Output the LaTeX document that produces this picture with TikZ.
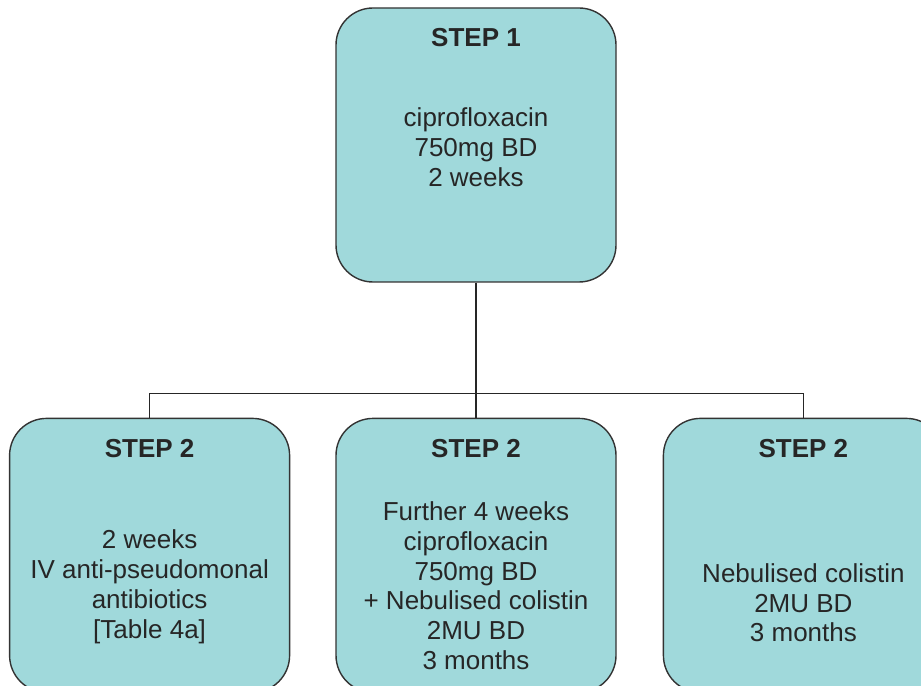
\documentclass[tikz,border=0pt]{standalone}
\usepackage{fontspec}
\setmainfont{Liberation Sans}
\usetikzlibrary{positioning,calc}
\definecolor{boxfill}{RGB}{160,217,219}

\begin{document}
\begin{tikzpicture}[
   stepbox/.style={draw=black!80, line width=.8pt, fill=boxfill, rounded corners=.74cm,
                   minimum width=5.6cm, minimum height=5.48cm},
   steptitle/.style={font=\fontsize{14.8}{17}\selectfont\bfseries, text=black!85},
   stepbody/.style={align=center, font=\fontsize{14.8}{17}\selectfont, text=black!85},
   link/.style={line width=.8pt, draw=black!85}
]

\clip (0,0) rectangle (18.42,-13.72);

\node[stepbox] (step1) at (9.52,-2.9) {};
\node[stepbox, below = 2.7cm of step1] (step2b) {};
\node[stepbox, left = .9cm of step2b] (step2a) {};
\node[stepbox, right = .92cm of step2b] (step2c) {};

% Titles
\node[steptitle] (title1) at ($(step1.north)+(0,-.6)$) {STEP 1};
\node[steptitle] (title2a) at ($(step2a.north)+(0,-.62)$) {STEP 2};
\node[steptitle] (title2b) at ($(step2b.north)+(0,-.62)$) {STEP 2};
\node[steptitle] (title2c) at ($(step2c.north)+(0,-.62)$) {STEP 2};

% Treatments
\node[stepbody] (body1) at ($(step1.center)+(0,-.04)$) {ciprofloxacin\\750mg BD\\2 weeks};
\node[stepbody] (body2a) at ($(step2a.north)+(0,-3.38)$)
   {2 weeks\\IV anti-pseudomonal\\antibiotics\\{[Table 4a]}};
\node[stepbody] (body2b) at ($(step2b.north)+(0,-3.36)$)
   {Further 4 weeks\\ciprofloxacin\\750mg BD\\+ Nebulised colistin\\2MU BD\\3 months};
\node[stepbody] (body2c) at ($(step2c.north)+(0,-3.7)$)
   {Nebulised colistin\\2MU BD\\3 months};

% Connecting lines
\coordinate (bus) at ($(step1.south)+(0,-2.22)$);
\draw[link] (step1.south) -- (step2b.north);
\draw[link] (step2a.north) |- (bus) -| (step2c.north);

\end{tikzpicture}
\end{document}
